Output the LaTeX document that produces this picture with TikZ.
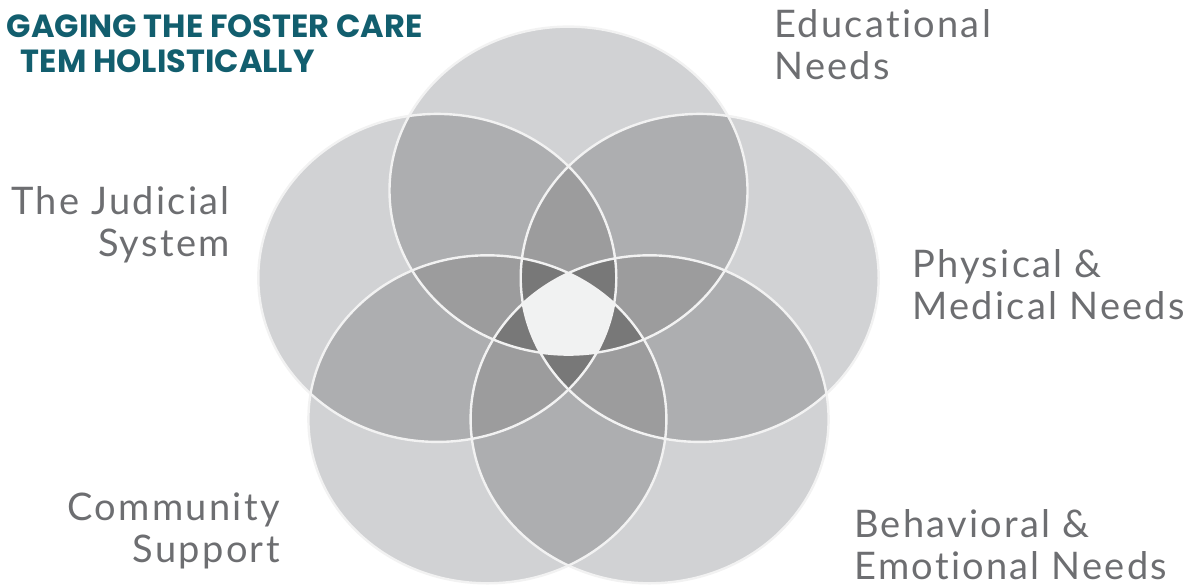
\documentclass[tikz,border=0pt]{standalone}
\usepackage{fontspec}
\setmainfont{Lato}[LetterSpace=6, Ligatures=CommonOff]
\newfontfamily\titlefont{Poppins}
\usetikzlibrary{positioning}

\definecolor{one}{HTML}{D1D2D4}
\definecolor{two}{HTML}{ADAEB0}
\definecolor{three}{HTML}{9C9C9D}
\definecolor{four}{HTML}{787878}
\definecolor{five}{HTML}{F1F2F2}
\definecolor{rim}{HTML}{F2F2F2}
\definecolor{lblgray}{HTML}{6D6E71}
\definecolor{titleteal}{HTML}{125E6E}

\newcommand\petal[1]{(c#1) ellipse [x radius=179, y radius=164]}

\tikzset{
  lbl/.style={font=\fontsize{19}{21}\selectfont, text=lblgray, inner sep=0pt},
  heading/.style={font=\titlefont\bfseries\fontsize{16}{17}\selectfont, text=titleteal, inner sep=0pt}
}

\begin{document}
\begin{tikzpicture}[x=0.5pt,y=-0.5pt]
   \useasboundingbox (0,0) rectangle (1200,586);

   % petal centres
   \coordinate (c1) at (568.5,190.6);  % educational
   \coordinate (c2) at (699.7,277.9);  % physical & medical
   \coordinate (c3) at (649.6,419.3);  % behavioral & emotional
   \coordinate (c4) at (487.4,419.3);  % community
   \coordinate (c5) at (437.3,277.9);  % judicial

   % single
   \foreach \a in {1,...,5}
      \fill[one] \petal{\a};

   % pairs
   \foreach \a/\b in {1/2,1/3,1/4,1/5,2/3,2/4,2/5,3/4,3/5,4/5}{
      \begin{scope}
         \clip \petal{\a};
         \fill[two] \petal{\b};
      \end{scope}
   }

   % triples
   \foreach \a/\b/\c in {1/2/3,1/2/4,1/2/5,1/3/4,1/3/5,1/4/5,2/3/4,2/3/5,2/4/5,3/4/5}{
      \begin{scope}
         \clip \petal{\a};
         \clip \petal{\b};
         \fill[three] \petal{\c};
      \end{scope}
   }

   % quadruples
   \foreach \a/\b/\c/\d in {1/2/3/4,1/2/3/5,1/2/4/5,1/3/4/5,2/3/4/5}{
      \begin{scope}
         \clip \petal{\a};
         \clip \petal{\b};
         \clip \petal{\c};
         \fill[four] \petal{\d};
      \end{scope}
   }

   % all five
   \begin{scope}
      \clip \petal{1};
      \clip \petal{2};
      \clip \petal{3};
      \clip \petal{4};
      \fill[five] \petal{5};
   \end{scope}

   % outlines
   \foreach \a in {1,...,5}
      \draw[rim, line width=1.2pt] \petal{\a};

   % labels
   \node[lbl, anchor=north west, align=left]  (edu) at (774,9)   {Educational\\Needs};
   \node[lbl, anchor=north east, align=right] (jud) at (230,186) {The Judicial\\System};
   \node[lbl, anchor=north west, align=left]  (phy) at (912,249) {Physical \&\\Medical Needs};
   \node[lbl, anchor=north east, align=right] (com) at (280,492) {Community\\Support};
   \node[lbl, anchor=north west, align=left]  (beh) at (854,509) {Behavioral \&\\Emotional Needs};

   % title, cut at the left edge
   \node[heading, anchor=base east] (title1) at (423,37) {GAGING THE FOSTER CARE};
   \node[heading, anchor=base east] (title2) at (315,72) {TEM HOLISTICALLY};
\end{tikzpicture}
\end{document}
